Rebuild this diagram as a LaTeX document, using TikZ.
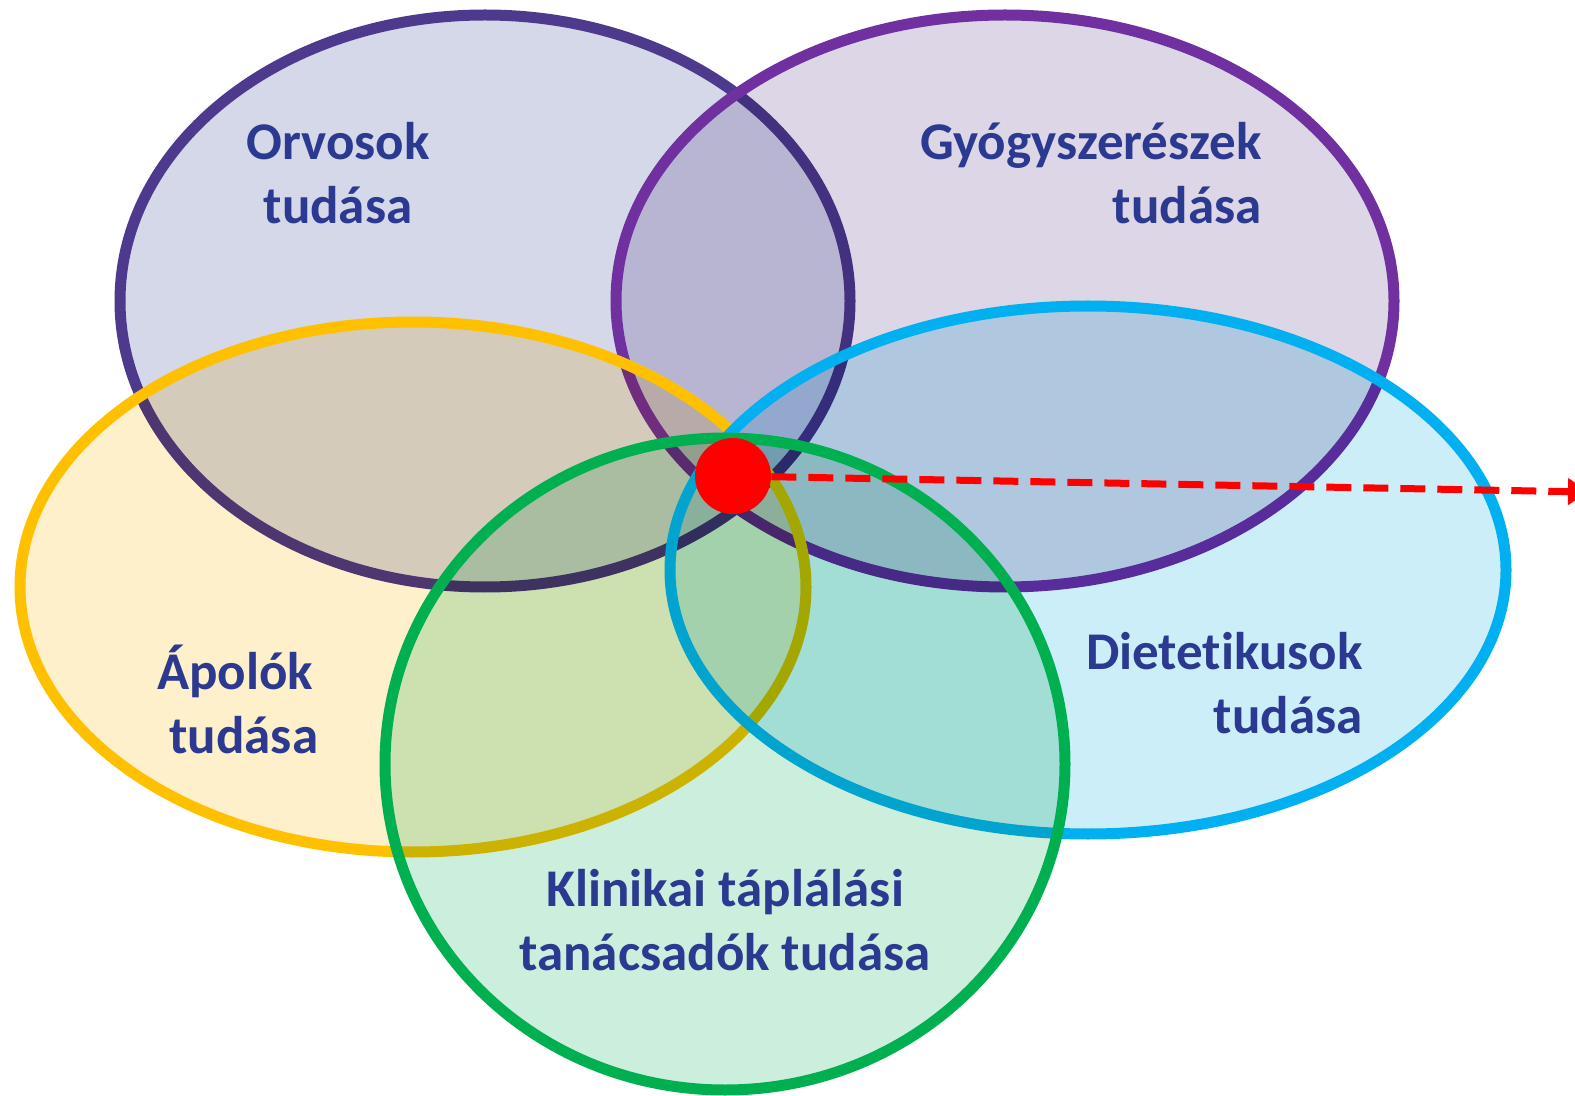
\documentclass[tikz,border=0pt]{standalone}
\usepackage{fontspec}
\setmainfont{Carlito}[Ligatures={NoCommon}]
\usetikzlibrary{shapes.geometric,arrows.meta}
\definecolor{orvline}{RGB}{78,58,140}
\definecolor{orvfill}{RGB}{213,216,233}
\definecolor{gyline}{RGB}{112,48,160}
\definecolor{gyfill}{RGB}{220,214,230}
\definecolor{apline}{RGB}{255,192,0}
\definecolor{apfill}{RGB}{255,240,204}
\definecolor{dline}{RGB}{0,176,240}
\definecolor{dfill}{RGB}{204,238,249}
\definecolor{kline}{RGB}{0,176,80}
\definecolor{kfill}{RGB}{204,238,220}
\definecolor{txtblue}{RGB}{43,57,144}
\tikzset{
  fillell/.style={ellipse, inner sep=0pt},
  lineell/.style={ellipse, draw, line width=5.5pt, inner sep=0pt},
  lbl/.style={font=\bfseries\fontsize{26.5}{32}\selectfont, text=txtblue, inner sep=0pt},
  orvsize/.style={minimum width=365pt, minimum height=286pt},
  gysize/.style={minimum width=389pt, minimum height=286pt},
  apsize/.style={minimum width=393pt, minimum height=265pt},
  dsize/.style={minimum width=418pt, minimum height=264pt},
  ksize/.style={minimum width=340pt, minimum height=326pt},
}
\begin{document}
\begin{tikzpicture}[x=0.5pt,y=-0.5pt]
\useasboundingbox (0,0) rectangle (1575,1096);
\begin{scope}[blend mode=multiply]
  \node[fillell, fill=orvfill, orvsize] (orv) at (485,301) {};
\end{scope}
\node[lineell, draw=orvline, orvsize] (orvb) at (orv) {};
\begin{scope}[blend mode=multiply]
  \node[fillell, fill=gyfill, gysize] (gy) at (1005,301) {};
\end{scope}
\node[lineell, draw=gyline, gysize] (gyb) at (gy) {};
\begin{scope}[blend mode=multiply]
  \node[fillell, fill=apfill, apsize] (ap) at (413,587) {};
\end{scope}
\node[lineell, draw=apline, apsize] (apb) at (ap) {};
\begin{scope}[blend mode=multiply]
  \node[fillell, fill=dfill, dsize] (diet) at (1088,570) {};
\end{scope}
\node[lineell, draw=dline, dsize] (dietb) at (diet) {};
\begin{scope}[blend mode=multiply]
  \node[fillell, fill=kfill, ksize] (klin) at (725,764) {};
\end{scope}
\node[lineell, draw=kline, ksize] (klinb) at (klin) {};
\node[lbl, align=center] (torv) at (338,173) {Orvosok\\tudása};
\node[lbl, align=right, anchor=east] (tgy) at (1262,173) {Gyógyszerészek\\tudása};
\node[lbl, align=center] (tap) at (235,699) {Ápolók\\\,\,tudása};
\node[lbl, align=right, anchor=east] (tdiet) at (1363,683) {Dietetikusok\\tudása};
\node[lbl, align=center] (tklin) at (725,920) {Klinikai táplálási\\tanácsadók tudása};
\node[circle, fill=red, minimum size=38pt, inner sep=0pt] (dot) at (733,476) {};
\coordinate (arrend) at (1588,492);
\draw[red, line width=3.5pt, dash pattern=on 12.5pt off 6pt, -{Triangle[length=10pt,width=13pt]}] (dot) -- (arrend);
\end{tikzpicture}
\end{document}
